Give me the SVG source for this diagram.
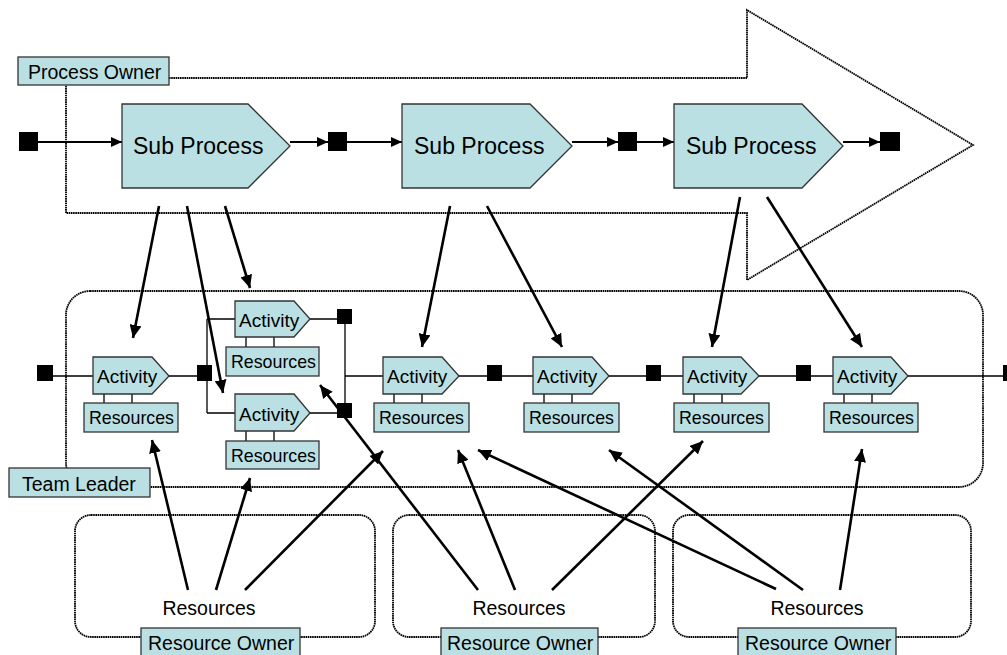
<svg xmlns="http://www.w3.org/2000/svg" width="1007" height="655" viewBox="0 0 1007 655">
<style>
.box{fill:#BBE0E3;stroke:#333;stroke-width:1.3}
.dot{fill:none;stroke:#000;stroke-width:1.8;stroke-dasharray:1.6 0.6}
.flow{fill:none;stroke:#000;stroke-width:1.3}
.arr{fill:none;stroke:#000;stroke-width:2.6;marker-end:url(#ah)}
.tarr{fill:none;stroke:#000;stroke-width:2.2;marker-end:url(#ahs)}
.sq{fill:#000}
text{font-family:"Liberation Sans",Arial,sans-serif;fill:#000}
.t19{font-size:19.5px}
.t23{font-size:23px}
.tact{font-size:19px}
.tres{font-size:17.8px}
</style>
<defs>
<marker id="ah" markerUnits="userSpaceOnUse" markerWidth="14" markerHeight="12" refX="13" refY="6" orient="auto"><path d="M0,0 L13,6 L0,12 z" fill="#000"/></marker>
<marker id="ahs" markerUnits="userSpaceOnUse" markerWidth="12" markerHeight="10" refX="11" refY="5" orient="auto"><path d="M0,0 L11,5 L0,10 z" fill="#000"/></marker>
</defs>
<rect width="1007" height="655" fill="#fff"/>

<g id="process-arrow">
<path class="dot" d="M169,78 H747 V10 L973,145 L747,280 V213 H66 V85"/>
</g>
<g id="team-container">
<rect class="dot" x="66" y="291" width="917" height="196" rx="24" ry="24"/>
</g>
<g id="resource-groups">
<rect class="dot" x="75" y="515" width="300" height="122" rx="16" ry="16"/>
<rect class="dot" x="393" y="515" width="262" height="122" rx="16" ry="16"/>
<rect class="dot" x="673" y="515" width="298" height="122" rx="16" ry="16"/>
</g>

<g id="connectors">
<line class="tarr" x1="38" y1="142" x2="122" y2="142"/>
<line class="tarr" x1="290" y1="142" x2="328" y2="142"/>
<line class="tarr" x1="347" y1="142" x2="402" y2="142"/>
<line class="tarr" x1="572" y1="142" x2="618" y2="142"/>
<line class="tarr" x1="637" y1="142" x2="674" y2="142"/>
<line class="tarr" x1="843" y1="142" x2="880" y2="142"/>

<path class="flow" d="M53,376 H93 M169,376 H197 M207,319 V413 M207,319 H235 M207,413 H235 M309,319 H337 M309,413 H337 M345,319 V413 M345,376 H383 M459,376 H487 M502,376 H533 M609,376 H646 M661,376 H683 M759,376 H796 M811,376 H833 M908,376 H1003"/>
<path class="flow" d="M104,394 V403 M132,394 V403 M246,337 V347 M274,337 V347 M246,431 V441 M274,431 V441 M394,394 V403 M422,394 V403 M544,394 V403 M572,394 V403 M694,394 V403 M722,394 V403 M844,394 V403 M872,394 V403"/>

<line class="arr" x1="159" y1="206" x2="133" y2="338"/>
<line class="arr" x1="187" y1="206" x2="223" y2="393"/>
<line class="arr" x1="225" y1="206" x2="250" y2="288"/>
<line class="arr" x1="450" y1="206" x2="422" y2="347"/>
<line class="arr" x1="487" y1="206" x2="562" y2="347"/>
<line class="arr" x1="740" y1="197" x2="712" y2="347"/>
<line class="arr" x1="767" y1="197" x2="862" y2="347"/>

<line class="arr" x1="188" y1="590" x2="152" y2="440"/>
<line class="arr" x1="216" y1="590" x2="250" y2="478"/>
<line class="arr" x1="245" y1="590" x2="383" y2="451"/>
<line class="arr" x1="478" y1="590" x2="320" y2="385"/>
<line class="arr" x1="515" y1="590" x2="458" y2="450"/>
<line class="arr" x1="552" y1="590" x2="703" y2="441"/>
<line class="arr" x1="776" y1="589" x2="478" y2="450"/>
<line class="arr" x1="803" y1="590" x2="609" y2="450"/>
<line class="arr" x1="840" y1="590" x2="862" y2="449"/>
</g>

<g id="top-events">
<rect class="sq" x="19" y="132" width="19" height="19"/>
<rect class="sq" x="328" y="132" width="19" height="19"/>
<rect class="sq" x="618" y="132" width="19" height="19"/>
<rect class="sq" x="880" y="132" width="20" height="19"/>
</g>
<g id="mid-events">
<rect class="sq" x="37" y="365" width="16" height="16"/>
<rect class="sq" x="197" y="365" width="15" height="16"/>
<rect class="sq" x="337" y="309" width="15" height="15"/>
<rect class="sq" x="337" y="403" width="15" height="15"/>
<rect class="sq" x="487" y="365" width="15" height="16"/>
<rect class="sq" x="646" y="365" width="15" height="16"/>
<rect class="sq" x="796" y="365" width="15" height="16"/>
<rect class="sq" x="1003" y="365" width="15" height="16"/>
</g>

<g id="process-owner">
<rect class="box" x="18" y="57" width="151" height="28"/>
<text class="t19" x="28" y="79">Process Owner</text>
</g>

<g id="subprocess-1">
<path class="box" d="M122,104 H248 L290,146 L248,188 H122 Z"/>
<text class="t23" x="133" y="154">Sub Process</text>
</g>
<g id="subprocess-2">
<path class="box" d="M402,104 H530 L572,146 L530,188 H402 Z"/>
<text class="t23" x="414" y="154">Sub Process</text>
</g>
<g id="subprocess-3">
<path class="box" d="M674,104 H802 L843,146 L802,188 H674 Z"/>
<text class="t23" x="686" y="154">Sub Process</text>
</g>

<g id="activity-1">
<path class="box" d="M93,357 H152 L169,376 L152,394 H93 Z"/>
<text class="tact" x="97" y="383">Activity</text>
<rect class="box" x="84" y="403" width="94" height="29"/>
<text class="tres" x="89" y="424">Resources</text>
</g>
<g id="activity-2">
<path class="box" d="M235,301 H294 L310,319 L294,337 H235 Z"/>
<text class="tact" x="239" y="327">Activity</text>
<rect class="box" x="226" y="347" width="93" height="29"/>
<text class="tres" x="231" y="368">Resources</text>
</g>
<g id="activity-3">
<path class="box" d="M235,394 H294 L310,413 L294,431 H235 Z"/>
<text class="tact" x="239" y="421">Activity</text>
<rect class="box" x="226" y="441" width="93" height="28"/>
<text class="tres" x="231" y="462">Resources</text>
</g>
<g id="activity-4">
<path class="box" d="M383,357 H442 L459,376 L442,394 H383 Z"/>
<text class="tact" x="387" y="383">Activity</text>
<rect class="box" x="374" y="403" width="95" height="29"/>
<text class="tres" x="379" y="424">Resources</text>
</g>
<g id="activity-5">
<path class="box" d="M533,357 H592 L609,376 L592,394 H533 Z"/>
<text class="tact" x="537" y="383">Activity</text>
<rect class="box" x="524" y="403" width="95" height="29"/>
<text class="tres" x="529" y="424">Resources</text>
</g>
<g id="activity-6">
<path class="box" d="M683,357 H741 L759,376 L741,394 H683 Z"/>
<text class="tact" x="687" y="383">Activity</text>
<rect class="box" x="674" y="403" width="95" height="29"/>
<text class="tres" x="679" y="424">Resources</text>
</g>
<g id="activity-7">
<path class="box" d="M833,357 H891 L908,376 L891,394 H833 Z"/>
<text class="tact" x="837" y="383">Activity</text>
<rect class="box" x="824" y="403" width="94" height="29"/>
<text class="tres" x="829" y="424">Resources</text>
</g>

<g id="team-leader">
<rect class="box" x="9" y="468" width="141" height="29"/>
<text class="t19" x="22" y="491">Team Leader</text>
</g>

<g id="resource-pool-1">
<text class="t19" x="209" y="615" text-anchor="middle">Resources</text>
<rect class="box" x="141" y="628" width="159" height="32"/>
<text class="t19" x="148" y="650">Resource Owner</text>
</g>
<g id="resource-pool-2">
<text class="t19" x="519" y="615" text-anchor="middle">Resources</text>
<rect class="box" x="441" y="628" width="157" height="32"/>
<text class="t19" x="447" y="650">Resource Owner</text>
</g>
<g id="resource-pool-3">
<text class="t19" x="817" y="615" text-anchor="middle">Resources</text>
<rect class="box" x="738" y="628" width="158" height="32"/>
<text class="t19" x="745" y="650">Resource Owner</text>
</g>
</svg>
